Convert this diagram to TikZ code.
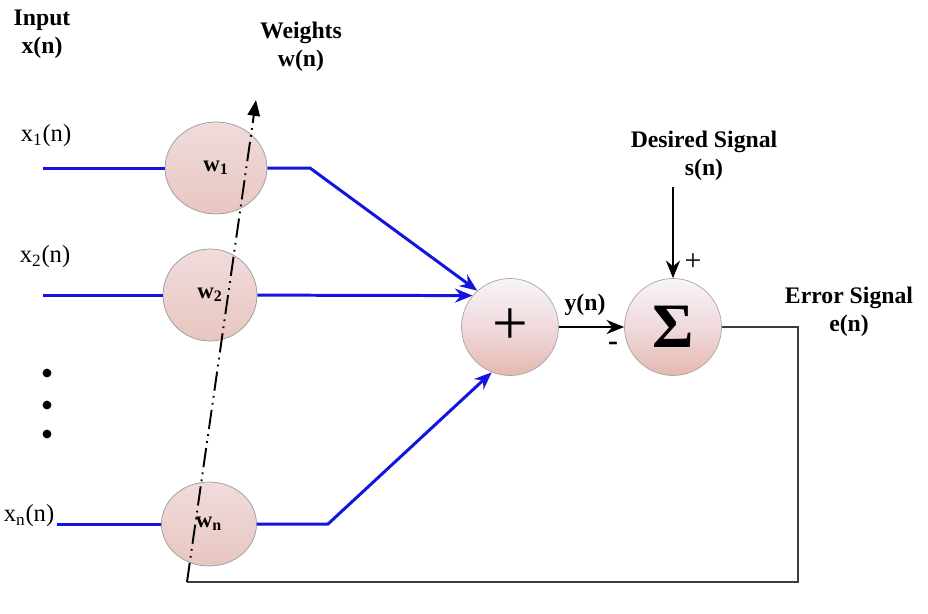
\documentclass[tikz,border=0pt]{standalone}
\usepackage{fontspec}
\setmainfont{Liberation Serif}
\usetikzlibrary{arrows.meta,positioning,calc,shapes.geometric}
\definecolor{wtop}{RGB}{240,220,220}
\definecolor{wbot}{RGB}{232,198,192}
\definecolor{stop}{RGB}{248,245,245}
\definecolor{smid}{RGB}{240,218,222}
\definecolor{sbot}{RGB}{228,184,174}
\definecolor{fbline}{RGB}{60,60,60}
\definecolor{sigblue}{RGB}{20,20,225}

\begin{document}
\begin{tikzpicture}[x=0.02cm,y=-0.02cm,>=Stealth,
 lbl/.style={font=\fontsize{13.5}{16}\selectfont\bfseries,align=center,inner sep=0pt},
 sig/.style={font=\fontsize{14}{16}\selectfont,inner sep=0pt},
 wt/.style={ellipse,draw=black!40,inner sep=0pt,top color=wtop,bottom color=wbot,
  font=\fontsize{13}{15}\selectfont\bfseries},
 sumblk/.style={circle,draw=black!35,minimum size=1.94cm,inner sep=0pt,
  top color=stop,bottom color=sbot,middle color=smid},
 bl/.style={draw=sigblue,line width=1.7pt,-{Stealth[length=10pt,width=8pt]}},
 bk/.style={draw=black,line width=1.5pt,-{Stealth[length=10pt,width=8pt]}},
 dot/.style={circle,fill=black,inner sep=0pt,minimum size=5pt}]
\useasboundingbox (0,0) rectangle (928,613);
% labels
\node[lbl] (input) at (42,34) {Input\\x(n)};
\node[lbl] (weights) at (301,47) {Weights\\w(n)};
\node[sig] (x1) at (46,136) {x\textsubscript{1}(n)};
\node[sig] (x2) at (45,257) {x\textsubscript{2}(n)};
\node[sig] (xn) at (29,516) {x\textsubscript{n}(n)};
\node[dot] (d1) at (47,373) {};
\node[dot] (d2) at (47,405) {};
\node[dot] (d3) at (47,434) {};
% weights
\node[wt,minimum width=2.04cm,minimum height=1.84cm] (w1) at (216,168) {w\textsubscript{1}};
\node[wt,minimum width=1.88cm,minimum height=1.84cm] (w2) at (210,295) {w\textsubscript{2}};
\node[wt,minimum width=1.9cm,minimum height=1.68cm] (wn) at (209,524) {w\textsubscript{n}};
% adder and error sum
\node[sumblk,font=\fontsize{36}{36}\selectfont] (adder) at (510,327) {+};
\node[sumblk,font=\fontsize{36}{36}\selectfont\bfseries] (sum) at (673,327) {Σ};
\node[lbl] (desired) at (704,156) {Desired Signal\\s(n)};
\node[lbl] (error) at (849,312) {Error Signal\\e(n)};
\node[lbl,anchor=south] (yn) at (585,316) {y(n)};
\node[font=\fontsize{17}{17}\selectfont] (plus) at (693,262) {+};
\node[font=\fontsize{17}{17}\selectfont\bfseries] (minus) at (613,346) {-};
% corner points
\coordinate (in1) at (43,168);
\coordinate (in2) at (43,295);
\coordinate (inn) at (57,524);
\coordinate (b1) at (310,168);
\coordinate (bn) at (328,524);
\coordinate (e1) at (798,327);
\coordinate (e2) at (798,582);
\coordinate (fb) at (187,582);
\coordinate (wtop) at (256,100);
% signal paths
\draw[draw=sigblue,line width=1.7pt] (in1) -- (w1);
\draw[draw=sigblue,line width=1.7pt] (in2) -- (w2);
\draw[draw=sigblue,line width=1.7pt] (inn) -- (wn);
\draw[bl] (w1) -- (b1) -- (adder.132);
\draw[bl] (w2) -- (adder.140);
\draw[bl] (wn) -- (bn) -- (adder.248);
\draw[bk] (adder) -- (sum);
\draw[bk] (desired.south -| sum) ++(0,6) -- (sum.north);
\draw[fbline,line width=0.9pt] (sum.east) -- (e1) -- (e2) -- (fb);
\draw[line width=1.1pt,dash pattern=on 11pt off 3pt on 1pt off 3pt on 1pt off 3pt,
 -{Triangle[length=9pt,width=7pt]}] (fb) -- (wtop);
\end{tikzpicture}
\end{document}
